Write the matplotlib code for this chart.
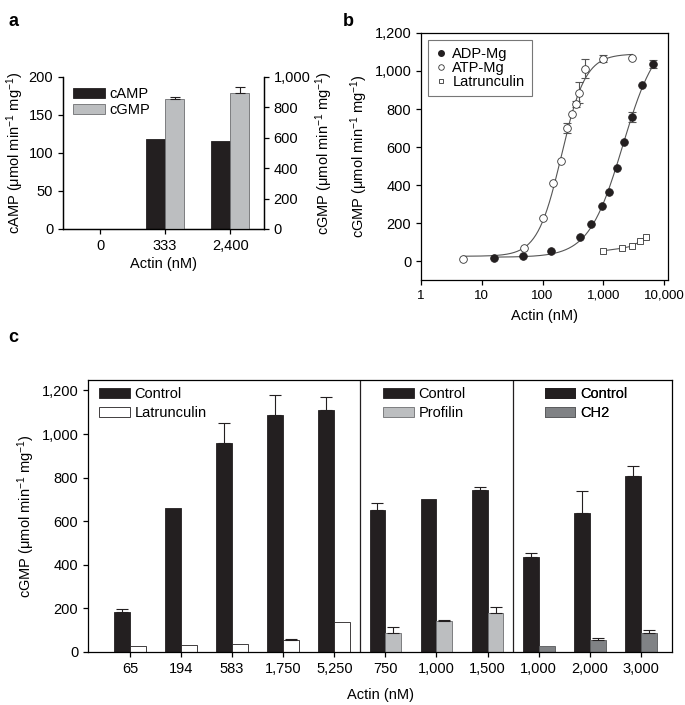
import numpy as np
import matplotlib
matplotlib.use("Agg")
import matplotlib.pyplot as plt
from matplotlib.ticker import FuncFormatter, FixedLocator, NullLocator
from matplotlib.patches import Patch
from matplotlib.lines import Line2D

plt.rcParams['font.family'] = ['Liberation Sans', 'DejaVu Sans']
plt.rcParams['mathtext.fontset'] = 'custom'
plt.rcParams['mathtext.rm'] = 'Liberation Sans'
plt.rcParams['mathtext.default'] = 'regular'
plt.rcParams['font.size'] = 10.5
plt.rcParams['axes.linewidth'] = 0.9
plt.rcParams['xtick.major.width'] = 0.9
plt.rcParams['ytick.major.width'] = 0.9
plt.rcParams['xtick.major.size'] = 3.5
plt.rcParams['ytick.major.size'] = 3.5

BLACK = '#231f20'
LGRAY = '#bcbec0'
DGRAY = '#808285'
CURVE = '#555555'

# ---------------- Panel a data ----------------
a_categories = ['0', '333', '2,400']
a_camp = [0, 119, 116]
a_cgmp = [0, 855, 897]
a_cgmp_err = [0, 12, 35]

# ---------------- Panel b data ----------------
b_atp_x = [5, 50, 100, 150, 200, 250, 300, 350, 400, 500, 1000, 3000]
b_atp_y = [10, 66, 224, 412, 525, 700, 772, 828, 886, 1012, 1065, 1070]
b_atp_err = [0, 0, 0, 0, 0, 25, 0, 15, 55, 50, 20, 0]
b_adp_x = [16, 48, 140, 420, 630, 940, 1250, 1650, 2200, 2980, 4400, 6500]
b_adp_y = [18, 26, 51, 128, 194, 289, 364, 490, 627, 758, 924, 1038]
b_adp_err = [0, 0, 0, 0, 0, 0, 0, 0, 0, 25, 0, 22]
b_lat_x = [1000, 2000, 3000, 4000, 5000]
b_lat_y = [54, 67, 79, 103, 126]
# Hill fit parameters: base, top, K, n, x-range
b_atp_fit = [25, 1090, 205, 2.2, 5, 3000]
b_adp_fit = [20, 1200, 2100, 1.55, 16, 6500]

# ---------------- Panel c data ----------------
c_labels = ['65', '194', '583', '1,750', '5,250', '750', '1,000', '1,500', '1,000', '2,000', '3,000']
c_control = [185, 661, 960, 1089, 1109, 653, 702, 745, 437, 636, 808]
c_control_err = [14, 0, 92, 88, 60, 31, 0, 13, 18, 103, 46]
c_treat = [26, 31, 37, 55, 136, 89, 144, 179, 29, 57, 89]
c_treat_err = [0, 0, 0, 3, 0, 26, 3, 28, 0, 9, 14]
c_treat_names = ['Latrunculin', 'Profilin', 'CH2']
c_groups = [5, 3, 3]

unit = r' ($\mu$mol min$^{-1}$ mg$^{-1}$)'
comma = FuncFormatter(lambda v, p: f'{v:,.0f}')

fig = plt.figure(figsize=(6.85, 7.05), dpi=100)

# ================= Panel a =================
axa = fig.add_axes([0.092, 0.6752, 0.2934, 0.2156])
xa = np.arange(len(a_categories))
w = 0.29
axa.bar(xa - w / 2, a_camp, w, color=BLACK, edgecolor=BLACK, linewidth=0.6, label='cAMP')
axa.set_ylim(0, 200)
axa.set_xlim(-0.57, 2.52)
axa.set_yticks([0, 50, 100, 150, 200])
axa.set_xticks(xa)
axa.set_xticklabels(a_categories)
axa.spines['top'].set_visible(False)
axa.set_ylabel('cAMP' + unit, labelpad=2)
axa.set_xlabel('Actin (nM)', labelpad=3)
axa2 = axa.twinx()
cg = [c if c > 0 else np.nan for c in a_cgmp]
axa2.bar(xa + w / 2, cg, w, color=LGRAY, edgecolor='#6d6e71', linewidth=0.6, label='cGMP')
axa2.errorbar(xa[1:] + w / 2, a_cgmp[1:], yerr=[[0, 0], a_cgmp_err[1:]], fmt='none',
              ecolor=BLACK, elinewidth=0.8, capsize=3.5, capthick=0.8)
axa2.set_ylim(0, 1000)
axa2.yaxis.set_major_formatter(comma)
axa2.spines['top'].set_visible(False)
axa2.set_ylabel('cGMP' + unit, labelpad=2)
hand = [Patch(facecolor=BLACK, edgecolor=BLACK, linewidth=0.6),
        Patch(facecolor=LGRAY, edgecolor='#6d6e71', linewidth=0.6)]
axa2.legend(hand, ['cAMP', 'cGMP'], loc='upper left', frameon=False,
            handlelength=2.2, handleheight=0.65, borderaxespad=0.3,
            handletextpad=0.3, labelspacing=0.15)
fig.text(0.012, 0.982, 'a', fontsize=13, fontweight='bold', va='top')

# ================= Panel b =================
axb = fig.add_axes([0.6146, 0.6028, 0.3606, 0.3504])
axb.set_xscale('log')
for fit in (b_atp_fit, b_adp_fit):
    base, top, K, n, x0, x1 = fit
    xs = np.logspace(np.log10(x0), np.log10(x1), 300)
    axb.plot(xs, base + (top - base) * xs ** n / (K ** n + xs ** n), color=CURVE, lw=0.8)
axb.plot(b_lat_x, b_lat_y, color=CURVE, lw=0.8)


def eb(x, y, e):
    xs = [xi for xi, ei in zip(x, e) if ei > 0]
    ys = [yi for yi, ei in zip(y, e) if ei > 0]
    es = [ei for ei in e if ei > 0]
    axb.errorbar(xs, ys, yerr=es, fmt='none', ecolor=CURVE, elinewidth=0.8,
                 capsize=3, capthick=0.8, zorder=2)


eb(b_atp_x, b_atp_y, b_atp_err)
eb(b_adp_x, b_adp_y, b_adp_err)
axb.plot(b_adp_x, b_adp_y, 'o', ms=5.5, mfc=BLACK, mec=BLACK, mew=0.6, zorder=3)
axb.plot(b_atp_x, b_atp_y, 'o', ms=5.5, mfc='white', mec='#333333', mew=0.6, zorder=3)
axb.plot(b_lat_x, b_lat_y, 's', ms=4.5, mfc='white', mec='#333333', mew=0.6, zorder=3)
axb.set_xlim(1, 11600)
axb.set_ylim(-100, 1200)
axb.set_yticks(np.arange(0, 1201, 200))
axb.yaxis.set_major_formatter(comma)
axb.xaxis.set_major_locator(FixedLocator([1, 10, 100, 1000, 10000]))
axb.xaxis.set_minor_locator(NullLocator())
axb.xaxis.set_major_formatter(comma)
axb.tick_params(axis='x', labelsize=9.6)
axb.set_ylabel('cGMP' + unit, labelpad=3)
axb.set_xlabel('Actin (nM)', labelpad=5)
hb = [Line2D([], [], ls='none', marker='o', ms=4, mfc=BLACK, mec=BLACK),
      Line2D([], [], ls='none', marker='o', ms=4, mfc='white', mec='#333333', mew=0.6),
      Line2D([], [], ls='none', marker='s', ms=3.5, mfc='white', mec='#333333', mew=0.6)]
lb = axb.legend(hb, ['ADP-Mg', 'ATP-Mg', 'Latrunculin'], loc='upper left', frameon=True,
                fancybox=False, edgecolor='#555555', handlelength=0.8, handletextpad=0.4,
                labelspacing=0.0, borderpad=0.5, borderaxespad=0.45)
lb.get_frame().set_linewidth(0.8)
fig.text(0.5, 0.982, 'b', fontsize=13, fontweight='bold', va='top')

# ================= Panel c =================
axc = fig.add_axes([0.1285, 0.0752, 0.8526, 0.3858])
xc = np.arange(len(c_labels))
wc = 0.31
treat_colors = ['white'] * c_groups[0] + [LGRAY] * c_groups[1] + [DGRAY] * c_groups[2]
treat_edges = [BLACK] * c_groups[0] + ['#6d6e71'] * c_groups[1] + ['#58595b'] * c_groups[2]
axc.bar(xc - wc / 2, c_control, wc, color=BLACK, edgecolor=BLACK, linewidth=0.6)
axc.bar(xc + wc / 2, c_treat, wc, color=treat_colors, edgecolor=treat_edges, linewidth=0.6)
ce = [(x, v, e) for x, v, e in zip(xc - wc / 2, c_control, c_control_err) if e > 0]
axc.errorbar([c[0] for c in ce], [c[1] for c in ce], yerr=[[0] * len(ce), [c[2] for c in ce]],
             fmt='none', ecolor=BLACK, elinewidth=0.8, capsize=4, capthick=0.8)
te = [(x, v, e) for x, v, e in zip(xc + wc / 2, c_treat, c_treat_err) if e > 0]
axc.errorbar([c[0] for c in te], [c[1] for c in te], yerr=[[0] * len(te), [c[2] for c in te]],
             fmt='none', ecolor=BLACK, elinewidth=0.8, capsize=4, capthick=0.8)
axc.set_xlim(-0.82, 10.61)
axc.set_ylim(0, 1248)
axc.set_yticks(np.arange(0, 1201, 200))
axc.yaxis.set_major_formatter(comma)
axc.set_xticks(xc)
axc.set_xticklabels(c_labels)
axc.set_ylabel('cGMP' + unit, labelpad=3)
axc.set_xlabel('Actin (nM)', labelpad=9)
starts = np.cumsum([0] + c_groups)
for s in starts[1:-1]:
    axc.axvline(s - 0.5, color=BLACK, lw=0.9)
tfaces = ['white', LGRAY, DGRAY]
tedges = [BLACK, '#6d6e71', '#58595b']
leg_x = [-0.6, 4.96, 8.12]
for gi in range(len(c_groups)):
    h = [Patch(facecolor=BLACK, edgecolor=BLACK, linewidth=0.6),
         Patch(facecolor=tfaces[gi], edgecolor=tedges[gi], linewidth=0.6)]
    lg = axc.legend(h, ['Control', c_treat_names[gi]], loc='upper left',
                    bbox_to_anchor=(leg_x[gi], 1215), bbox_transform=axc.transData,
                    frameon=False, handlelength=2.1, handleheight=0.62,
                    handletextpad=0.3, labelspacing=0.35, borderpad=0, borderaxespad=0)
    axc.add_artist(lg)
fig.text(0.012, 0.533, 'c', fontsize=13, fontweight='bold', va='top')

fig.savefig('out.png', dpi=100)
